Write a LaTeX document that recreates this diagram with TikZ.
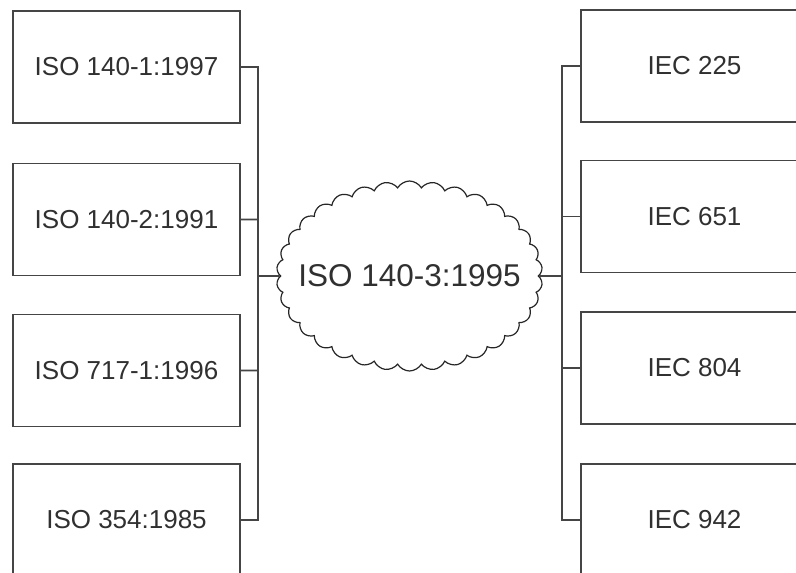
\documentclass[tikz,border=0pt]{standalone}
\usepackage{fontspec}
\setmainfont{Liberation Sans}
\usetikzlibrary{shapes.symbols}
\definecolor{edge}{HTML}{454545}
\definecolor{txt}{HTML}{303030}
\tikzset{
  stdbox/.style={draw=edge, line width=1.8pt, fill=white, rectangle,
    minimum width=227pt, minimum height=112pt, inner sep=0pt,
    font=\fontsize{26}{30}\selectfont, text=txt},
  link/.style={draw=edge, line width=1.6pt},
  cloudshape/.style={draw=black!85, line width=1.2pt, cloud, cloud puffs=34,
    cloud puff arc=120, cloud ignores aspect, minimum width=266pt,
    minimum height=190pt, inner sep=0pt}
}
\begin{document}
\begin{tikzpicture}[x=1pt,y=-1pt]
\clip (0,0) rectangle (796,573);
\fill[white] (0,0) rectangle (796,573);
% left boxes
\node[stdbox] (L1) at (126.5,67) {ISO 140-1:1997};
\node[stdbox] (L2) at (126.5,219.5) {ISO 140-2:1991};
\node[stdbox] (L3) at (126.5,370.5) {ISO 717-1:1996};
\node[stdbox] (L4) at (126.5,520) {ISO 354:1985};
% right boxes
\node[stdbox] (R1) at (694.5,66) {IEC 225};
\node[stdbox] (R2) at (694.5,216.5) {IEC 651};
\node[stdbox] (R3) at (694.5,368) {IEC 804};
\node[stdbox] (R4) at (694.5,520) {IEC 942};
% cloud
\node[cloudshape, label={[font=\fontsize{31.5}{36}\selectfont, text=txt]center:ISO 140-3:1995}] (C) at (409.5,276) {};
% trunks
\coordinate (lt) at (258,276);
\coordinate (rt) at (562,276);
\foreach \b in {L1,L2,L3,L4}{
  \draw[link] (\b.east) -| (lt) -- (C.west);
}
\foreach \b in {R1,R2,R3,R4}{
  \draw[link] (\b.west) -| (rt) -- (C.east);
}
\end{tikzpicture}
\end{document}
